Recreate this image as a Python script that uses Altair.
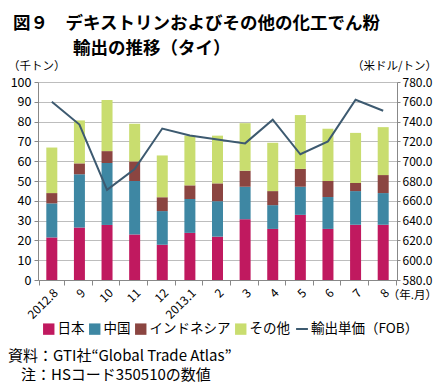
import altair as alt
import pandas as pd

months = ["2012.8", "9", "10", "11", "12", "2013.1", "2", "3", "4", "5", "6", "7", "8"]
series = ["日本", "中国", "インドネシア", "その他"]
japan = [21.5, 26.5, 27.8, 23.0, 17.8, 23.8, 21.9, 30.7, 25.8, 32.9, 25.8, 27.9, 27.9]
china = [17.2, 26.9, 31.3, 27.0, 17.0, 17.1, 17.9, 16.4, 12.0, 14.2, 16.1, 17.0, 16.0]
indonesia = [5.2, 5.5, 6.0, 9.9, 7.0, 6.9, 9.0, 8.1, 7.1, 9.0, 8.1, 4.1, 9.1]
others = [23.0, 21.7, 25.8, 19.0, 21.1, 25.1, 24.1, 24.0, 24.4, 27.2, 26.4, 25.3, 24.2]
price = [760, 737, 671, 692, 733, 726, 722, 718, 742, 707, 720, 762, 751]
colors = ["#C0195F", "#3E87A3", "#8B4541", "#C9DD6F"]
line_color = "#3D5A70"
line_name = "輸出単価（FOB）"

FONT = "Noto Sans CJK JP"

rows = []
for vals, name, o in zip([japan, china, indonesia, others], series, range(4)):
    for m, v in zip(months, vals):
        rows.append({"month": m, "series": name, "value": v, "o": o})
bars_df = pd.DataFrame(rows)
line_df = pd.DataFrame({"month": months, "price": price, "name": line_name})

xenc = alt.X("month:N", sort=months, title=None,
             scale=alt.Scale(paddingInner=0.1, paddingOuter=0.05),
             axis=alt.Axis(labelAngle=-45, labelFontSize=12, labelFont=FONT,
                           tickBand="extent", tickSize=5, tickColor="#888888",
                           domainColor="#888888", labelColor="#000000", labelPadding=2))

bars = alt.Chart(bars_df).mark_bar(size=11).encode(
    x=xenc,
    y=alt.Y("sum(value):Q", title=None,
            scale=alt.Scale(domain=[0, 100], nice=False),
            axis=alt.Axis(values=list(range(0, 101, 10)), grid=True, gridColor="#BDBDBD",
                          tickSize=4, tickColor="#888888", domainColor="#888888",
                          labelFontSize=12.5, labelFont=FONT, labelColor="#000000", labelPadding=3)),
    color=alt.Color("series:N", sort=series,
                    scale=alt.Scale(domain=series, range=colors),
                    legend=alt.Legend(title=None, orient="none", legendX=4, legendY=240,
                                      direction="horizontal", symbolType="square",
                                      symbolSize=130, symbolStrokeWidth=0, labelFontSize=13.5,
                                      labelFont=FONT, labelOffset=2, columnPadding=3,
                                      labelColor="#000000")),
    order=alt.Order("o:Q", sort="ascending"),
)

line = alt.Chart(line_df).mark_line(strokeWidth=2).encode(
    x=alt.X("month:N", sort=months),
    y=alt.Y("price:Q", title=None,
            scale=alt.Scale(domain=[580, 780], nice=False),
            axis=alt.Axis(orient="right", values=list(range(580, 781, 20)), format=".1f",
                          grid=False, tickSize=3, tickColor="#888888", domainColor="#888888",
                          labelFontSize=12, labelFont=FONT, labelColor="#000000", labelPadding=2)),
    stroke=alt.Stroke("name:N", scale=alt.Scale(domain=[line_name], range=[line_color]),
                      legend=alt.Legend(title=None, orient="none", legendX=257, legendY=240,
                                        symbolType="stroke", symbolStrokeWidth=2, symbolSize=140,
                                        labelFontSize=13.5, labelFont=FONT, labelOffset=2,
                                        labelColor="#000000")),
)

def txt(s, x, y, size, weight="normal", align="left"):
    return alt.Chart(pd.DataFrame({"t": [s]})).mark_text(
        x=x, y=y, fontSize=size, font=FONT, fontWeight=weight, align=align,
        baseline="middle", color="#000000").encode(text="t:N")

annotations = [
    txt("図９　デキストリンおよびその他の化工でん粉", -25, -58, 17.5, "bold"),
    txt("輸出の推移（タイ）", 35, -33, 17.5, "bold"),
    txt("（千トン）", -30, -15, 11.5),
    txt("（米ドル/トン）", 399, -15, 11.5, align="right"),
    txt("（年.月）", 399, 214, 11.5, align="right"),
    txt("資料：GTI社“Global Trade Atlas”", -30, 274, 15),
    txt("注：HSコード350510の数値", -17, 293, 15),
]

chart = alt.layer(bars, line, *annotations).resolve_scale(
    y="independent", color="independent"
).properties(
    width=359, height=198,
    autosize=alt.AutoSizeParams(type="none"),
    padding={"left": 30, "top": 74, "right": 40, "bottom": 104},
).configure_view(stroke=None).configure_axis(labelFont=FONT)

chart.save("out.html", embed_options={"renderer": "svg", "actions": False})
